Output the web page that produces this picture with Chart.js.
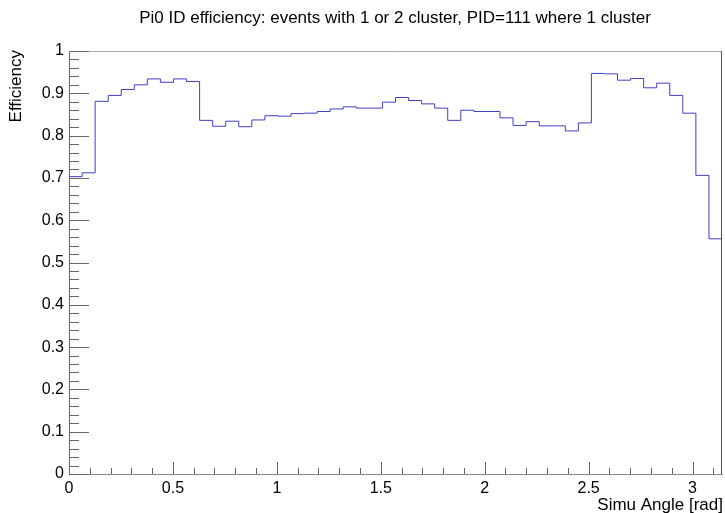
<!DOCTYPE html>
<html lang="en">
    <head>
        <meta charset="utf-8" />
        <title>Pi0 ID efficiency</title>
        <style>
            html, body { margin: 0; padding: 0; background: #fff; }
            #wrap { width: 725px; height: 513px; }
        </style>
    </head>
    <body>
        <div id="wrap"><canvas id="hist"></canvas></div>

        <script src="https://cdn.jsdelivr.net/npm/chart.js@4.4.1/dist/chart.umd.min.js"></script>

        <script>
            // histogram: 50 bins from 0 to pi
            const xMin = 0;
            const xMax = Math.PI;
            const nBins = 50;
            const efficiency = [
                0.703, 0.712, 0.881, 0.895, 0.909, 0.920, 0.934, 0.926, 0.934, 0.928,
                0.836, 0.822, 0.834, 0.821, 0.837, 0.847, 0.846, 0.852, 0.853, 0.857,
                0.863, 0.868, 0.865, 0.865, 0.879, 0.890, 0.883, 0.875, 0.865, 0.836,
                0.860, 0.857, 0.857, 0.842, 0.824, 0.833, 0.823, 0.823, 0.811, 0.830,
                0.947, 0.946, 0.931, 0.935, 0.913, 0.924, 0.895, 0.853, 0.706, 0.556
            ];
            const yTicks = [0, 0.1, 0.2, 0.3, 0.4, 0.5, 0.6, 0.7, 0.8, 0.9, 1];
            const xTicks = [0, 0.5, 1, 1.5, 2, 2.5, 3];

            const titleText = "Pi0 ID efficiency: events with 1 or 2 cluster, PID=111 where 1 cluster";
            const xTitle = "Simu Angle [rad]";
            const yTitle = "Efficiency";

            // bin edges -> step points
            const binW = (xMax - xMin) / nBins;
            const punti = efficiency.map((v, i) => ({ x: xMin + i * binW, y: v }));
            punti.push({ x: xMax, y: efficiency[nBins - 1] });

            const fontName = "'Liberation Sans', Arial, sans-serif";
            Chart.defaults.font.family = fontName;

            // ROOT style ticks, frame and titles
            const rootFrame = {
                id: "rootFrame",
                afterDraw(chart) {
                    const ctx = chart.ctx;
                    const a = chart.chartArea;
                    const sx = chart.scales.x;
                    const sy = chart.scales.y;
                    ctx.save();
                    ctx.lineWidth = 1;
                    // frame top / right
                    ctx.strokeStyle = "#aaaaaa";
                    ctx.beginPath();
                    ctx.moveTo(a.left, a.top + 0.5);
                    ctx.lineTo(a.right, a.top + 0.5);
                    ctx.stroke();
                    ctx.strokeStyle = "#555555";
                    ctx.beginPath();
                    ctx.moveTo(a.right - 0.5, a.top);
                    ctx.lineTo(a.right - 0.5, a.bottom);
                    ctx.stroke();

                    // y ticks, every 0.02, major every 0.1
                    ctx.strokeStyle = "#666666";
                    ctx.beginPath();
                    for (let k = 0; k <= 50; k++) {
                        const py = Math.round(sy.getPixelForValue(k / 50)) + 0.5;
                        const len = k % 5 === 0 ? 20 : 10;
                        ctx.moveTo(a.left, py);
                        ctx.lineTo(a.left + len, py);
                    }
                    // x ticks, every 0.1, major every 0.5
                    for (let k = 0; k <= 31; k++) {
                        const px = Math.round(sx.getPixelForValue(k / 10)) + 0.5;
                        const len = k % 5 === 0 ? 12 : 6;
                        ctx.moveTo(px, a.bottom);
                        ctx.lineTo(px, a.bottom - len);
                    }
                    ctx.stroke();

                    // titles
                    ctx.fillStyle = "#000";
                    ctx.font = "17px " + fontName;
                    ctx.textAlign = "center";
                    ctx.textBaseline = "alphabetic";
                    ctx.fillText(titleText, 395, 23);

                    ctx.textAlign = "right";
                    ctx.fillText(xTitle, 723, 510);

                    ctx.translate(21, 50);
                    ctx.rotate(-Math.PI / 2);
                    ctx.textAlign = "right";
                    ctx.fillText(yTitle, 0, 0);
                    ctx.restore();
                },
            };

            new Chart(document.getElementById("hist"), {
                type: "line",
                data: {
                    datasets: [
                        {
                            data: punti,
                            stepped: "before",
                            borderColor: "#3f3fc4",
                            borderWidth: 1,
                            pointRadius: 0,
                            fill: false,
                        },
                    ],
                },
                options: {
                    responsive: true,
                    maintainAspectRatio: false,
                    animation: false,
                    events: [],
                    layout: { padding: { top: 51, right: 3, left: 0, bottom: 0 } },
                    plugins: { legend: { display: false }, tooltip: { enabled: false } },
                    scales: {
                        x: {
                            type: "linear",
                            min: xMin,
                            max: xMax,
                            afterFit: (s) => { s.height = 39; },
                            afterBuildTicks: (s) => { s.ticks = xTicks.map((v) => ({ value: v })); },
                            grid: { drawOnChartArea: false, drawTicks: false },
                            border: { color: "#888888", width: 1 },
                            ticks: {
                                color: "#000",
                                font: { size: 16 },
                                padding: 5,
                                autoSkip: false,
                                maxRotation: 0,
                                callback: (v) => String(v),
                            },
                        },
                        y: {
                            type: "linear",
                            min: 0,
                            max: 1,
                            afterFit: (s) => { s.width = 69; },
                            afterBuildTicks: (s) => { s.ticks = yTicks.map((v) => ({ value: v })); },
                            grid: { drawOnChartArea: false, drawTicks: false },
                            border: { color: "#666666", width: 1 },
                            ticks: {
                                color: "#000",
                                font: { size: 16 },
                                padding: 5,
                                autoSkip: false,
                                callback: (v) => String(v),
                            },
                        },
                    },
                },
                plugins: [rootFrame],
            });
        </script>
    </body>
</html>
